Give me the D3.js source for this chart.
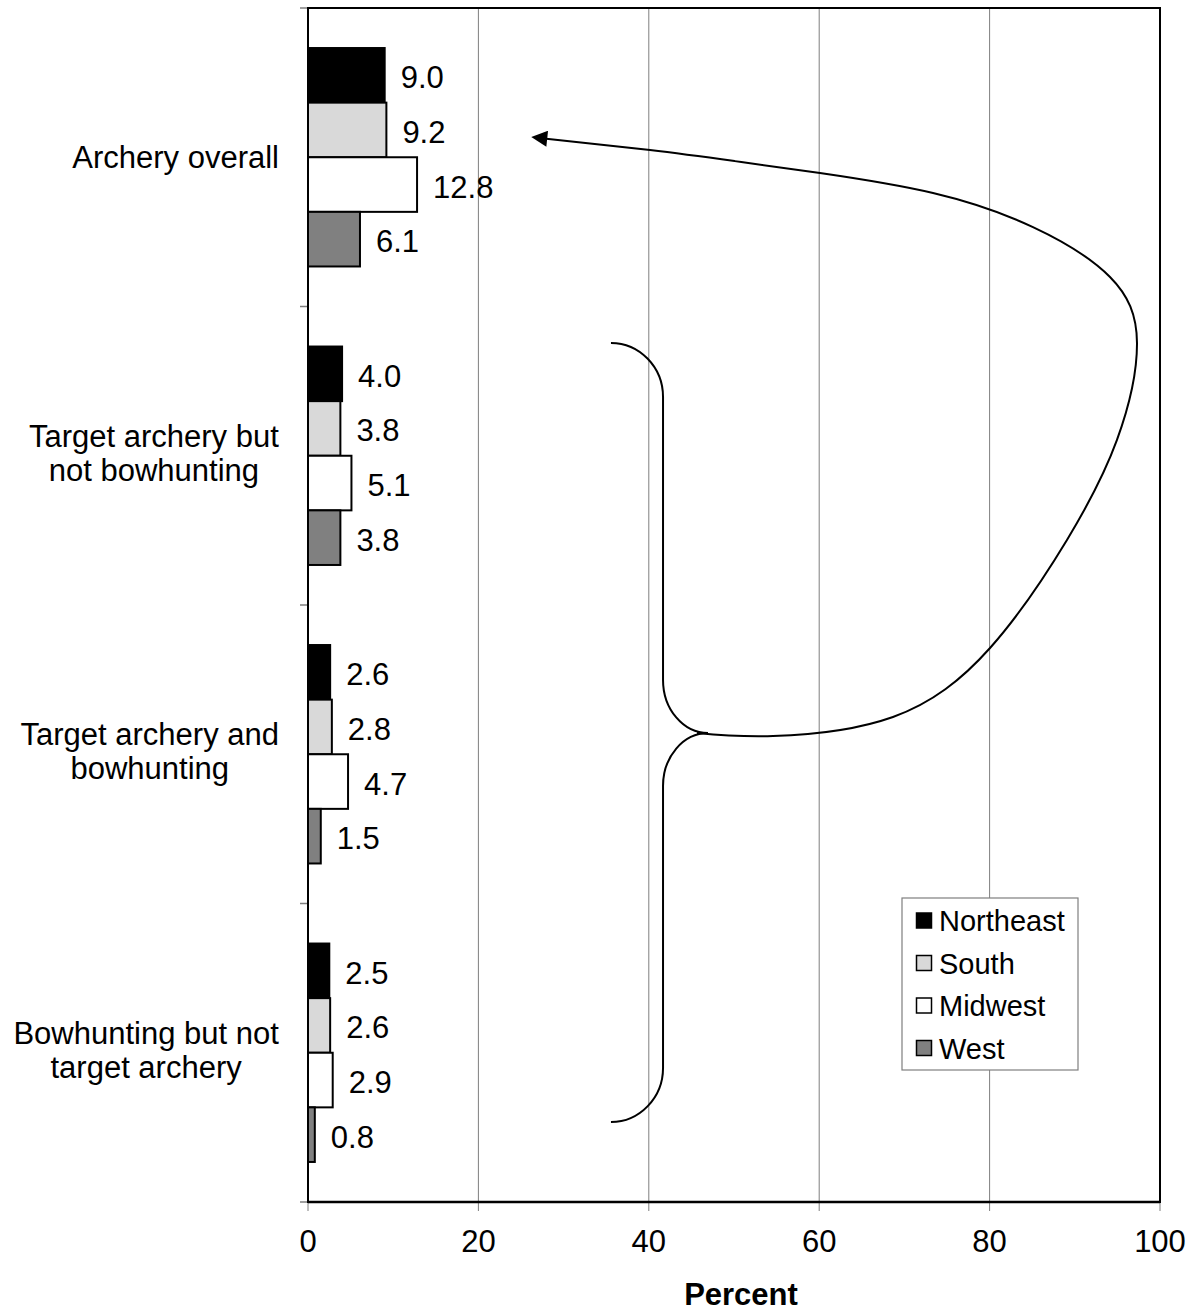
<!DOCTYPE html>
<html>
<head>
<meta charset="utf-8">
<script src="https://cdn.jsdelivr.net/npm/d3@7"></script>
<style>
  body { margin: 0; background: #fff; }
  text { font-family: "Liberation Sans", Arial, sans-serif; fill: #000; }
</style>
</head>
<body>
<svg id="chart" width="1196" height="1311"></svg>
<script>
// Archery participation by region (percent)
const categories = [
  ["Archery overall"],
  ["Target archery but", "not bowhunting"],
  ["Target archery and", "bowhunting"],
  ["Bowhunting but not", "target archery"]
];
const categoryKeys = categories.map(c => c.join(" "));
const regions = ["Northeast", "South", "Midwest", "West"];
const regionColors = ["#000000", "#d9d9d9", "#ffffff", "#808080"];

const northeast = [9.0, 4.0, 2.6, 2.5];
const south     = [9.2, 3.8, 2.8, 2.6];
const midwest   = [12.8, 5.1, 4.7, 2.9];
const west      = [6.1, 3.8, 1.5, 0.8];
const seriesValues = [northeast, south, midwest, west];

const xTicks = [0, 20, 40, 60, 80, 100];
const xTitle = "Percent";

// Annotation guides, in [percent, category position] units
// (category position 0 = top of the plot, 4 = bottom).
const braceTop    = [35.56, 1.122];
const braceBottom = [35.56, 3.732];
const braceStem   = 41.67;
const braceTip    = [46.95, 2.429];
const braceBend   = [1.303, 2.251, 2.606, 3.551];
const arrowPath = [
  [45.66, 2.429], [54.58, 2.439], [68.66, 2.375], [80.05, 2.144],
  [89.08, 1.782], [94.95, 1.447], [97.30, 1.122], [94.13, 0.901],
  [85.09, 0.734], [73.36, 0.620], [60.09, 0.553], [50.10, 0.513],
  [40.14, 0.476], [27.70, 0.437]
];

const W = 1196, H = 1311;
const margin = { top: 8, right: 36, bottom: 109, left: 308 };
const plotW = W - margin.left - margin.right;
const plotH = H - margin.top - margin.bottom;

const svg = d3.select("#chart");
const g = svg.append("g").attr("transform", `translate(${margin.left},${margin.top})`);

const x = d3.scaleLinear().domain([0, 100]).range([0, plotW]);
const y = d3.scaleBand().domain(categoryKeys).range([0, plotH]).padding(0);
const ySub = d3.scaleBand().domain(regions).range([0, y.bandwidth()])
  .paddingInner(0).paddingOuter(0.733);
const yPos = d3.scaleLinear().domain([0, 4]).range([0, plotH]);

// vertical gridlines, extended below the axis as tick marks
g.append("g").selectAll("line").data(xTicks).join("line")
  .attr("x1", d => x(d)).attr("x2", d => x(d))
  .attr("y1", 0).attr("y2", plotH + 9)
  .attr("stroke", "#7f7f7f").attr("stroke-width", 1);

// category boundary ticks on the left
g.append("g").selectAll("line").data(d3.range(categories.length + 1)).join("line")
  .attr("x1", -8).attr("x2", 0)
  .attr("y1", d => yPos(d)).attr("y2", d => yPos(d))
  .attr("stroke", "#7f7f7f").attr("stroke-width", 1.5);

// bars
const bars = [];
categoryKeys.forEach((c, ci) => {
  regions.forEach((r, ri) => {
    bars.push({ cat: c, region: r, ri, value: seriesValues[ri][ci] });
  });
});

g.append("g").selectAll("rect").data(bars).join("rect")
  .attr("x", x(0))
  .attr("y", d => y(d.cat) + ySub(d.region))
  .attr("width", d => x(d.value) - x(0))
  .attr("height", ySub.bandwidth())
  .attr("fill", d => regionColors[d.ri])
  .attr("stroke", "#000").attr("stroke-width", 2);

// value labels
g.append("g").selectAll("text").data(bars).join("text")
  .attr("x", d => x(d.value) + 16)
  .attr("y", d => y(d.cat) + ySub(d.region) + ySub.bandwidth() / 2 + 13)
  .attr("font-size", 31)
  .text(d => d.value.toFixed(1));

// plot frame
g.append("rect").attr("x", 0).attr("y", 0).attr("width", plotW).attr("height", plotH)
  .attr("fill", "none").attr("stroke", "#000").attr("stroke-width", 2);
g.append("line").attr("x1", 0).attr("x2", plotW).attr("y1", plotH).attr("y2", plotH)
  .attr("stroke", "#000").attr("stroke-width", 2.5);

// x tick labels
g.append("g").selectAll("text").data(xTicks).join("text")
  .attr("x", d => x(d)).attr("y", plotH + 50)
  .attr("text-anchor", "middle").attr("font-size", 31)
  .text(d => d);

// x title
g.append("text").attr("x", plotW / 2 + 7).attr("y", plotH + 103)
  .attr("text-anchor", "middle").attr("font-size", 31).attr("font-weight", "bold")
  .text(xTitle);

// category labels: lines centred on each other, block right-aligned to the axis
categories.forEach((lines, ci) => {
  const cy = y(categoryKeys[ci]) + y.bandwidth() / 2;
  const t = g.append("text").attr("font-size", 31).attr("text-anchor", "middle");
  const n = lines.length;
  lines.forEach((ln, li) => {
    t.append("tspan").attr("x", 0)
      .attr("y", n === 1 ? cy + 11 : cy - 9 + 34 * li)
      .text(ln);
  });
  const bw = t.node().getBBox().width;
  t.attr("transform", `translate(${-29 - bw / 2},0)`);
});

// brace
const P = p => [x(p[0]), yPos(p[1])];
const k = 0.55;
const bp = d3.path();
{
  const a = P(braceTop);
  const b = [x(braceStem), yPos(braceBend[0])];
  const c = [x(braceStem), yPos(braceBend[1])];
  const tip = P(braceTip);
  const d = [x(braceStem), yPos(braceBend[2])];
  const e = [x(braceStem), yPos(braceBend[3])];
  const f = P(braceBottom);
  bp.moveTo(a[0], a[1]);
  bp.bezierCurveTo(a[0] + k * (b[0] - a[0]), a[1], b[0], b[1] - k * (b[1] - a[1]), b[0], b[1]);
  bp.lineTo(c[0], c[1]);
  bp.bezierCurveTo(c[0], c[1] + k * (tip[1] - c[1]), tip[0] - k * (tip[0] - c[0]), tip[1], tip[0], tip[1]);
  bp.bezierCurveTo(tip[0] - k * (tip[0] - d[0]), tip[1], d[0], d[1] - k * (d[1] - tip[1]), d[0], d[1]);
  bp.lineTo(e[0], e[1]);
  bp.bezierCurveTo(e[0], e[1] + k * (f[1] - e[1]), f[0] + k * (e[0] - f[0]), f[1], f[0], f[1]);
}
g.append("path").attr("d", bp.toString())
  .attr("fill", "none").attr("stroke", "#000").attr("stroke-width", 2);

// curved arrow from the brace back to the overall category
svg.append("defs").append("marker")
  .attr("id", "arrowhead").attr("viewBox", "0 0 10 10")
  .attr("refX", 2).attr("refY", 5)
  .attr("markerWidth", 8.5).attr("markerHeight", 8)
  .attr("markerUnits", "strokeWidth")
  .attr("orient", "auto")
  .append("path").attr("d", "M0,0 L10,5 L0,10 Z").attr("fill", "#000");

const arrowLine = d3.line().x(d => x(d[0])).y(d => yPos(d[1]))
  .curve(d3.curveNatural);
g.append("path").attr("d", arrowLine(arrowPath))
  .attr("fill", "none").attr("stroke", "#000").attr("stroke-width", 2)
  .attr("marker-end", "url(#arrowhead)");

// legend
const legend = svg.append("g").attr("transform", "translate(902,898)");
legend.append("rect").attr("width", 176).attr("height", 172)
  .attr("fill", "#fff").attr("stroke", "#7f7f7f").attr("stroke-width", 1.2);
regions.forEach((r, i) => {
  const cy = 22.5 + i * 42.5;
  legend.append("rect").attr("x", 14.5).attr("y", cy - 7.5)
    .attr("width", 15).attr("height", 15)
    .attr("fill", regionColors[i]).attr("stroke", "#000").attr("stroke-width", 1.5);
  legend.append("text").attr("x", 37).attr("y", cy + 10.5)
    .attr("font-size", 29).text(r);
});
</script>
</body>
</html>
